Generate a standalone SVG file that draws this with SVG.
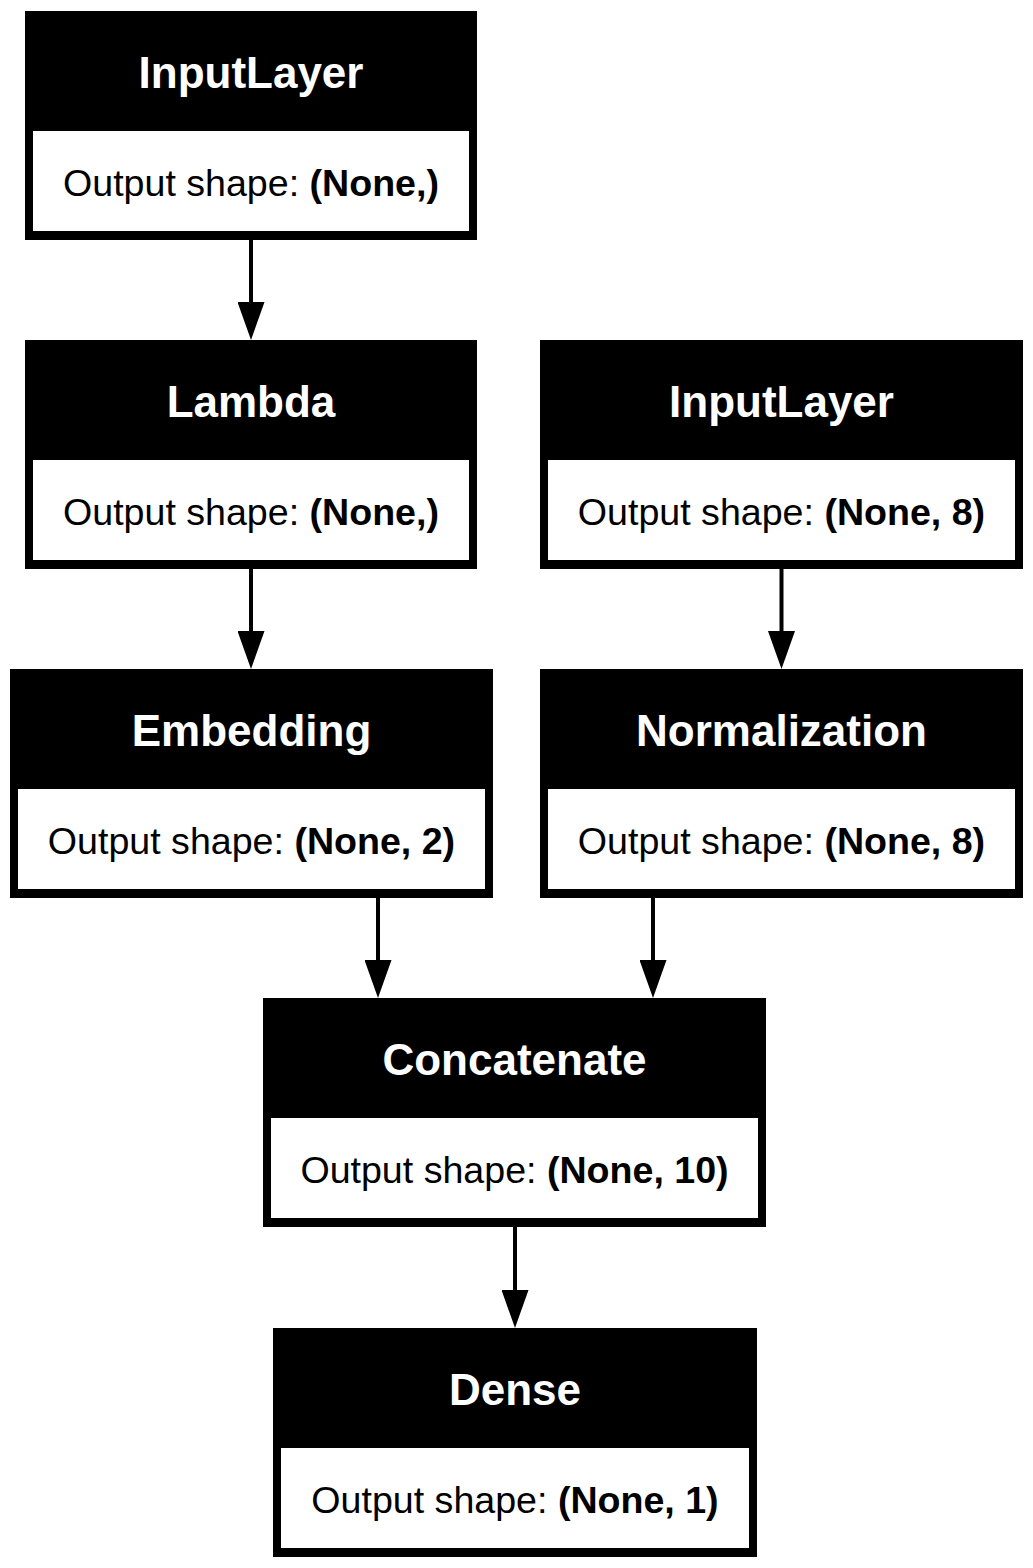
<svg xmlns="http://www.w3.org/2000/svg" width="1033" height="1568" viewBox="0 0 1033 1568">
<defs>
<style>
.outer{fill:#000;}
.inner{fill:#fff;}
.hdr{font-family:"Liberation Sans",Arial,Helvetica,sans-serif;font-weight:bold;font-size:44px;fill:#fff;text-anchor:middle;}
.body{font-family:"Liberation Sans",Arial,Helvetica,sans-serif;font-size:37.6px;fill:#000;text-anchor:middle;}
.b{font-weight:bold;}
.edge{stroke:#000;stroke-width:4;fill:none;}
</style>
<marker id="ah" markerUnits="userSpaceOnUse" markerWidth="38" markerHeight="27" refX="2" refY="13.5" orient="auto" viewBox="0 0 38 27">
<path d="M0,0 L38,13.5 L0,27 Z" fill="#000"/>
</marker>
</defs>
<rect x="0" y="0" width="1033" height="1568" fill="#fff"/>
<g id="connectors">
<line class="edge" x1="251" y1="240" x2="251" y2="304" marker-end="url(#ah)"/>
<line class="edge" x1="251" y1="569" x2="251" y2="633" marker-end="url(#ah)"/>
<line class="edge" x1="781.5" y1="569" x2="781.5" y2="633" marker-end="url(#ah)"/>
<line class="edge" x1="378" y1="898" x2="378" y2="962" marker-end="url(#ah)"/>
<line class="edge" x1="653" y1="898" x2="653" y2="962" marker-end="url(#ah)"/>
<line class="edge" x1="515" y1="1227" x2="515" y2="1292" marker-end="url(#ah)"/>
</g>
<g id="input1">
<rect class="outer" x="25" y="11" width="452" height="229"/>
<rect class="inner" x="33" y="131" width="436" height="100"/>
<text class="hdr" x="251" y="88">InputLayer</text>
<text class="body" x="251" y="196">Output shape: <tspan class="b">(None,)</tspan></text>
</g>
<g id="lambda">
<rect class="outer" x="25" y="340" width="452" height="229"/>
<rect class="inner" x="33" y="460" width="436" height="100"/>
<text class="hdr" x="251" y="417">Lambda</text>
<text class="body" x="251" y="525">Output shape: <tspan class="b">(None,)</tspan></text>
</g>
<g id="input2">
<rect class="outer" x="540" y="340" width="483" height="229"/>
<rect class="inner" x="548" y="460" width="467" height="100"/>
<text class="hdr" x="781.5" y="417">InputLayer</text>
<text class="body" x="781.5" y="525">Output shape: <tspan class="b">(None, 8)</tspan></text>
</g>
<g id="embedding">
<rect class="outer" x="10" y="669" width="483" height="229"/>
<rect class="inner" x="18" y="789" width="467" height="100"/>
<text class="hdr" x="251.5" y="746">Embedding</text>
<text class="body" x="251.5" y="854">Output shape: <tspan class="b">(None, 2)</tspan></text>
</g>
<g id="normalization">
<rect class="outer" x="540" y="669" width="483" height="229"/>
<rect class="inner" x="548" y="789" width="467" height="100"/>
<text class="hdr" x="781.5" y="746">Normalization</text>
<text class="body" x="781.5" y="854">Output shape: <tspan class="b">(None, 8)</tspan></text>
</g>
<g id="concatenate">
<rect class="outer" x="263" y="998" width="503" height="229"/>
<rect class="inner" x="271" y="1118" width="487" height="100"/>
<text class="hdr" x="514.5" y="1075">Concatenate</text>
<text class="body" x="514.5" y="1183">Output shape: <tspan class="b">(None, 10)</tspan></text>
</g>
<g id="dense">
<rect class="outer" x="273" y="1328" width="484" height="229"/>
<rect class="inner" x="281" y="1448" width="468" height="100"/>
<text class="hdr" x="515" y="1405">Dense</text>
<text class="body" x="515" y="1513">Output shape: <tspan class="b">(None, 1)</tspan></text>
</g>
</svg>
